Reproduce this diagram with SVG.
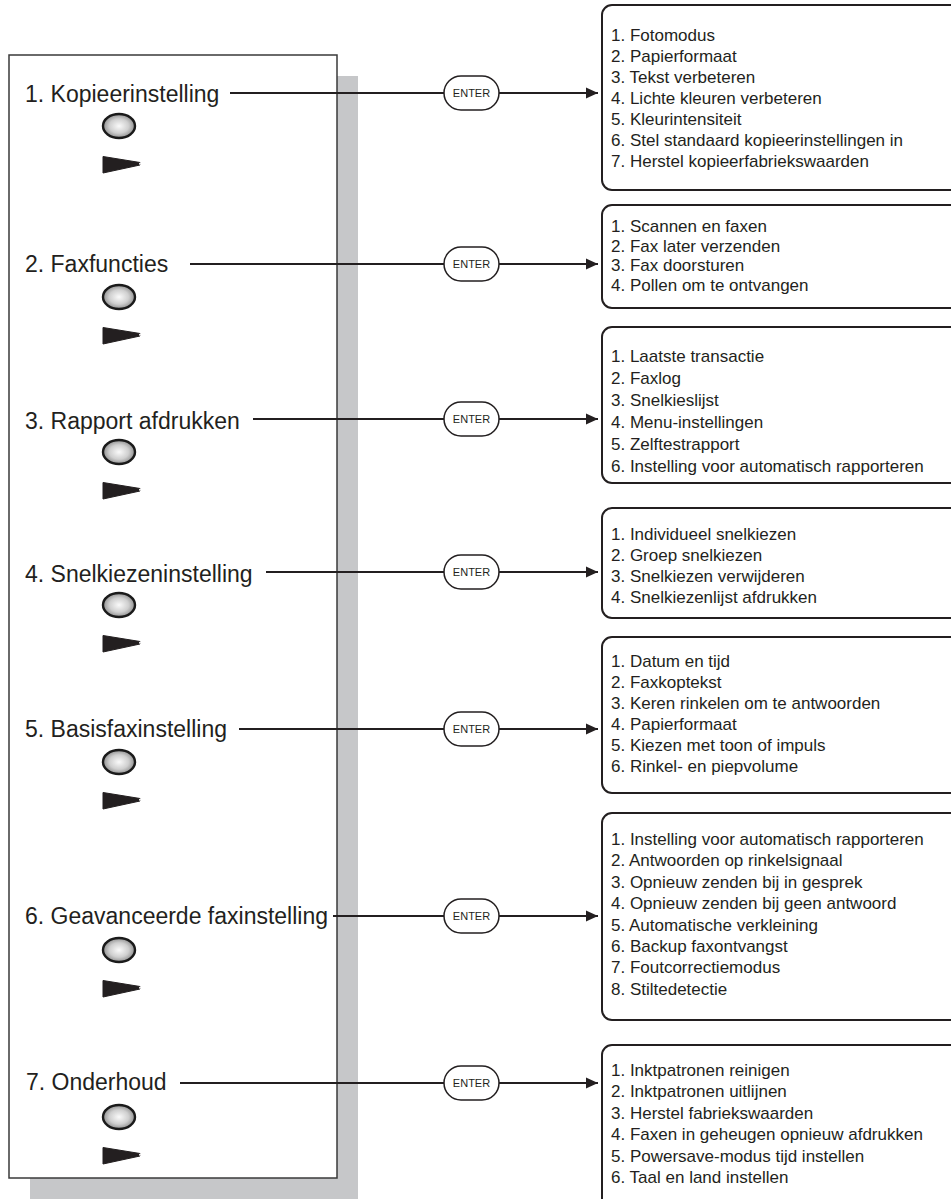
<svg xmlns="http://www.w3.org/2000/svg" width="951" height="1199" viewBox="0 0 951 1199">
<style>
.lbl{font-family:"Liberation Sans",Arial,sans-serif;font-size:23px;fill:#231f20}
.itm{font-family:"Liberation Sans",Arial,sans-serif;font-size:17px;fill:#231f20}
.ent{font-family:"Liberation Sans",Arial,sans-serif;font-size:11px;fill:#231f20;text-anchor:middle}
.box{fill:#fff;stroke:#231f20;stroke-width:2}
.pill{fill:#fff;stroke:#231f20;stroke-width:1.5}
.conn{stroke:#231f20;stroke-width:2;fill:none}
.oval{fill:url(#og);stroke:#1a1a1a;stroke-width:2.4}
.tri{fill:#231f20;stroke:#231f20;stroke-width:1;stroke-linejoin:round}
</style>
<defs>
<radialGradient id="og" cx="0.5" cy="0.5" r="0.6">
<stop offset="0" stop-color="#fafafa"/>
<stop offset="0.5" stop-color="#cfcfcf"/>
<stop offset="1" stop-color="#707070"/>
</radialGradient>
<marker id="ah" markerWidth="12" markerHeight="12" refX="12" refY="6" orient="auto" markerUnits="userSpaceOnUse">
<path d="M0,0.5 L12,6 L0,11.5 Z" fill="#231f20"/>
</marker>
<g id="btn">
<ellipse class="oval" cx="119" cy="0" rx="16" ry="12"/>
<path class="tri" d="M103,30.5 L103,47 L140,39 L140,36.5 Z"/>
<circle cx="140" cy="37.8" r="1" fill="#fff"/>
</g>
</defs>

<g id="panel">
<rect x="30" y="76" width="328" height="1123" fill="#c6c7c9"/>
<rect x="9" y="55" width="328" height="1123" fill="#fff" stroke="#3a3a3a" stroke-width="1.5"/>
</g>

<g id="connectors">
<line class="conn" x1="230" y1="93" x2="598" y2="93" marker-end="url(#ah)"/>
<line class="conn" x1="190" y1="264" x2="598" y2="264" marker-end="url(#ah)"/>
<line class="conn" x1="253" y1="419" x2="598" y2="419" marker-end="url(#ah)"/>
<line class="conn" x1="266" y1="572" x2="598" y2="572" marker-end="url(#ah)"/>
<line class="conn" x1="239" y1="729" x2="598" y2="729" marker-end="url(#ah)"/>
<line class="conn" x1="333" y1="916" x2="598" y2="916" marker-end="url(#ah)"/>
<line class="conn" x1="180" y1="1083" x2="598" y2="1083" marker-end="url(#ah)"/>
<g id="enter-labels">
<rect class="pill" x="444" y="76" width="55" height="34" rx="17"/><text class="ent" x="471.5" y="97">ENTER</text>
<rect class="pill" x="444" y="247" width="55" height="34" rx="17"/><text class="ent" x="471.5" y="268">ENTER</text>
<rect class="pill" x="444" y="402" width="55" height="34" rx="17"/><text class="ent" x="471.5" y="423">ENTER</text>
<rect class="pill" x="444" y="555" width="55" height="34" rx="17"/><text class="ent" x="471.5" y="576">ENTER</text>
<rect class="pill" x="444" y="712" width="55" height="34" rx="17"/><text class="ent" x="471.5" y="733">ENTER</text>
<rect class="pill" x="444" y="899" width="55" height="34" rx="17"/><text class="ent" x="471.5" y="920">ENTER</text>
<rect class="pill" x="444" y="1066" width="55" height="34" rx="17"/><text class="ent" x="471.5" y="1087">ENTER</text>
</g>
</g>

<g id="menu1"><text class="lbl" x="25" y="102">1. Kopieerinstelling</text><use href="#btn" y="126"/></g>
<g id="menu2"><text class="lbl" x="25" y="272">2. Faxfuncties</text><use href="#btn" y="297"/></g>
<g id="menu3"><text class="lbl" x="25" y="429">3. Rapport afdrukken</text><use href="#btn" y="452"/></g>
<g id="menu4"><text class="lbl" x="25" y="582">4. Snelkiezeninstelling</text><use href="#btn" y="605"/></g>
<g id="menu5"><text class="lbl" x="25" y="737">5. Basisfaxinstelling</text><use href="#btn" y="762"/></g>
<g id="menu6"><text class="lbl" x="25" y="924">6. Geavanceerde faxinstelling</text><use href="#btn" y="950"/></g>
<g id="menu7"><text class="lbl" x="26" y="1090">7. Onderhoud</text><use href="#btn" y="1117"/></g>

<g id="sub1"><rect class="box" x="602" y="5" width="370" height="185" rx="10"/>
<text class="itm" x="611" y="41">1. Fotomodus</text>
<text class="itm" x="611" y="62">2. Papierformaat</text>
<text class="itm" x="611" y="83">3. Tekst verbeteren</text>
<text class="itm" x="611" y="104">4. Lichte kleuren verbeteren</text>
<text class="itm" x="611" y="125">5. Kleurintensiteit</text>
<text class="itm" x="611" y="146">6. Stel standaard kopieerinstellingen in</text>
<text class="itm" x="611" y="167">7. Herstel kopieerfabriekswaarden</text>
</g>
<g id="sub2"><rect class="box" x="602" y="205" width="370" height="103" rx="10"/>
<text class="itm" x="611" y="232">1. Scannen en faxen</text>
<text class="itm" x="611" y="251.5">2. Fax later verzenden</text>
<text class="itm" x="611" y="271">3. Fax doorsturen</text>
<text class="itm" x="611" y="290.5">4. Pollen om te ontvangen</text>
</g>
<g id="sub3"><rect class="box" x="602" y="327" width="370" height="156" rx="10"/>
<text class="itm" x="611" y="362">1. Laatste transactie</text>
<text class="itm" x="611" y="384">2. Faxlog</text>
<text class="itm" x="611" y="406">3. Snelkieslijst</text>
<text class="itm" x="611" y="428">4. Menu-instellingen</text>
<text class="itm" x="611" y="450">5. Zelftestrapport</text>
<text class="itm" x="611" y="472">6. Instelling voor automatisch rapporteren</text>
</g>
<g id="sub4"><rect class="box" x="602" y="508" width="370" height="110" rx="10"/>
<text class="itm" x="611" y="540">1. Individueel snelkiezen</text>
<text class="itm" x="611" y="561">2. Groep snelkiezen</text>
<text class="itm" x="611" y="582">3. Snelkiezen verwijderen</text>
<text class="itm" x="611" y="603">4. Snelkiezenlijst afdrukken</text>
</g>
<g id="sub5"><rect class="box" x="602" y="637" width="370" height="156" rx="10"/>
<text class="itm" x="611" y="667">1. Datum en tijd</text>
<text class="itm" x="611" y="688">2. Faxkoptekst</text>
<text class="itm" x="611" y="709">3. Keren rinkelen om te antwoorden</text>
<text class="itm" x="611" y="730">4. Papierformaat</text>
<text class="itm" x="611" y="751">5. Kiezen met toon of impuls</text>
<text class="itm" x="611" y="772">6. Rinkel- en piepvolume</text>
</g>
<g id="sub6"><rect class="box" x="602" y="813" width="370" height="207" rx="10"/>
<text class="itm" x="611" y="845">1. Instelling voor automatisch rapporteren</text>
<text class="itm" x="611" y="866.4">2. Antwoorden op rinkelsignaal</text>
<text class="itm" x="611" y="887.8">3. Opnieuw zenden bij in gesprek</text>
<text class="itm" x="611" y="909.2">4. Opnieuw zenden bij geen antwoord</text>
<text class="itm" x="611" y="930.6">5. Automatische verkleining</text>
<text class="itm" x="611" y="952">6. Backup faxontvangst</text>
<text class="itm" x="611" y="973.4">7. Foutcorrectiemodus</text>
<text class="itm" x="611" y="994.8">8. Stiltedetectie</text>
</g>
<g id="sub7"><rect class="box" x="602" y="1045" width="370" height="170" rx="10"/>
<text class="itm" x="611" y="1076">1. Inktpatronen reinigen</text>
<text class="itm" x="611" y="1097.4">2. Inktpatronen uitlijnen</text>
<text class="itm" x="611" y="1118.8">3. Herstel fabriekswaarden</text>
<text class="itm" x="611" y="1140.2">4. Faxen in geheugen opnieuw afdrukken</text>
<text class="itm" x="611" y="1161.6">5. Powersave-modus tijd instellen</text>
<text class="itm" x="611" y="1183">6. Taal en land instellen</text>
</g>
</svg>
